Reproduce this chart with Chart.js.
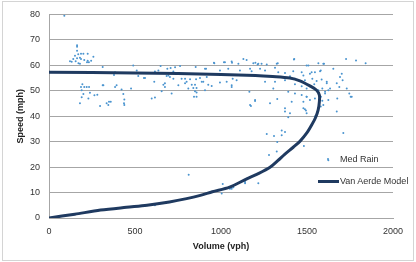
<!DOCTYPE html>
<html>
<head>
<meta charset="utf-8">
<script src="https://cdn.jsdelivr.net/npm/chart.js@4"></script>
<style>
  body { margin: 0; background: #fff; }
  #wrap { position: relative; width: 416px; height: 262px; font-family: "Liberation Sans", Arial, sans-serif; }
  #frame { position: absolute; left: 2px; top: 1px; width: 410px; height: 258px; border: 1px solid #d4d4d4; pointer-events: none; }
  .leg { position: absolute; font-size: 9px; color: #333; line-height: 12px; white-space: nowrap; }
  .dot { position: absolute; width: 2px; height: 2px; border-radius: 50%; background: #4a94cf; }
  .ln { position: absolute; height: 3px; background: #1f3a60; }
</style>
</head>
<body>
<div id="wrap">
  <canvas id="chart" width="416" height="262"></canvas>
  <div id="frame"></div>
  <div class="dot" style="left:327px;top:158px"></div>
  <div class="leg" style="left:340px;top:153px">Med Rain</div>
  <div class="ln" style="left:318px;top:180px;width:21px"></div>
  <div class="leg" style="left:340px;top:175px">Van Aerde Model</div>
</div>
<script>
// observed points (Volume vph, Speed mph)
const rainVolume = [
  89, 163, 163, 163, 151, 170, 186, 200, 225, 258, 141, 163, 180, 186, 205, 225, 245, 122, 155, 171, 180, 132, 221, 232,
  194, 186, 205, 219, 233, 316, 393, 384, 422, 477, 190, 238, 264, 281, 200, 190, 229, 432, 438, 180, 349, 359, 335, 345, 297, 438, 436, 312,
  312, 384, 378, 490, 510, 519, 558, 597, 612, 674, 655, 752,
  616, 649, 636, 688, 707, 723, 733, 762, 853, 913, 959, 1017, 1064, 1101, 1042, 994, 552, 684, 723, 791, 820, 855, 878, 888, 926, 946,
  994, 1033, 1068, 1062, 1091, 665, 674, 791, 849, 839, 810, 849, 713, 858, 843, 616, 694, 703, 771, 800, 830, 858, 858, 897, 907, 917, 907,
  1130, 1149, 1188, 1200, 1213, 1236, 1266, 1330, 1426, 1110, 1169, 1178, 1227, 1256, 1314, 1333, 1372, 1420, 1469, 1479, 1517, 1546, 1576,
  1401, 1430, 1488, 1531, 1556, 1585, 1256, 1314, 1372, 1430, 1469, 1498, 1517, 1542, 1566, 1589, 1304, 1391, 1430, 1469, 1498, 1517, 1546,
  1581, 1589, 1198, 1285, 1174, 1372, 1401, 1488, 1498, 1391,
  1727, 1785, 1841, 1653, 1702, 1692, 1707, 1673, 1731, 1688, 1760, 1676, 1615, 1634, 1605, 1580, 1673, 1595, 1566, 1498, 1165, 1198, 1169,
  1327, 1411, 1479, 1494, 1372, 961, 1023, 1062, 1217, 1324, 1424, 1062, 1599, 1508, 1527, 1580, 1615, 1624, 1605, 1624, 1595, 1498, 1479,
  1546, 1711, 1754, 1746,
  1266, 1308, 1353, 1372, 1353, 1327, 1482, 1324, 1279, 1217, 1140, 1072, 1062, 1010, 1004, 1624, 1140, 1149, 812, 946, 1052, 616
];
const rainSpeed = [
  79.5, 67.9, 67.3, 65.7, 63.8, 64.3, 64.5, 64.5, 64.5, 63.4, 62.5, 62.8, 63, 62.5, 62.1, 61.8, 61.8, 61.6, 61.6, 60.8, 60.6, 61.4, 61.2, 61.2,
  52.6, 51.5, 51.5, 51.5, 51.5, 52.2, 52.2, 51.5, 50.5, 50.9, 50.2, 49.2, 48.2, 48.4, 48.7, 47.4, 47, 48.7, 46.6, 45.1, 45.7, 45.7, 45.1, 44.4, 44, 44.4, 45.1, 52.2,
  59.3, 57.3, 56.2, 59.9, 58, 55.8, 55, 47, 53.5, 52.9, 49.8, 52.2,
  57.6, 59.7, 58, 58.6, 58.9, 57.6, 59.2, 59.7, 59.3, 58.6, 61, 61.2, 61, 60.6, 58.6, 58, 55, 55.8, 54.7, 54.7, 54.5, 54.5, 55, 53.5, 52.4, 51.9,
  53.2, 53.5, 54.7, 52.2, 54.1, 52.4, 51.5, 52.9, 52.4, 51.1, 50.9, 49.8, 48.9, 49.3, 47.6, 47.3, 56, 55.4, 54.7, 53.5, 52.4, 51.1, 47.6, 53.5, 50.2, 55.4, 58.6,
  62.5, 62.1, 60.8, 61, 60.3, 60.6, 60.3, 60.8, 62.5, 58, 58.6, 57.7, 58.6, 58, 59, 57.3, 57, 57.7, 57.3, 56, 56.7, 57.3, 57.7,
  55.7, 54.7, 54.1, 54.7, 53.8, 54.4, 53.5, 53.5, 54.1, 52.6, 51.8, 50.9, 51.8, 52.6, 50.2, 50.9, 50.9, 49.6, 48.9, 48.3, 47.6, 46.4, 47,
  47.6, 46.1, 46.4, 45.1, 44, 43.1, 41.2, 42.7, 41.2, 39.6,
  62.5, 61.9, 60.8, 58.6, 56.7, 55.4, 54.1, 52.9, 50.9, 51.5, 47.6, 47, 53.5, 50.9, 49.6, 43.8, 41.8, 60.6, 60.8, 59.9, 49.6, 46, 44.4,
  46.8, 45.7, 43.1, 42.2, 41.8, 60.8, 61.2, 61.5, 60.6, 60.6, 62.3, 51.5, 60.6, 59.9, 57.3, 58, 52.9, 50.2, 48.9, 46.4, 44.4, 47.6, 45.7,
  39.9, 33.4, 47.6, 48.9,
  33, 32.2, 34.4, 33.8, 32.5, 29.9, 28.3, 26.1, 24.8, 13.7, 14.1, 12.1, 11.5, 13.4, 9.6, 22.7, 13.7, 15.4, 17, 10.2, 11.5, 5.0
];

// Van Aerde model curve
const modelVolume = [0, 150, 300, 450, 570, 700, 800, 880, 950, 1050, 1150, 1220, 1285, 1330, 1372, 1420, 1460, 1500, 1527, 1550, 1565, 1572, 1572, 1556, 1517, 1459, 1400, 1300, 1200, 1000, 500, 0];
const modelSpeed = [0, 1.5, 3.1, 4.2, 5.0, 6.3, 7.6, 8.9, 10.3, 12.1, 15.4, 17.5, 19.9, 22.5, 25.1, 27.8, 30.2, 33.5, 36.5, 39.5, 42.5, 45.7, 48.3, 50.2, 51.9, 53.9, 55.0, 55.6, 56.0, 56.4, 57.0, 57.3];

const xTicks = [0, 500, 1000, 1500, 2000];
const yTicks = [0, 10, 20, 30, 40, 50, 60, 70, 80];

const rainPoints = rainVolume.map((v, i) => ({ x: v, y: rainSpeed[i] }));
const modelPoints = modelVolume.map((v, i) => ({ x: v, y: modelSpeed[i] }));

const tickFont = { family: '"Liberation Sans", Arial, sans-serif', size: 9 };
const titleFont = { family: '"Liberation Sans", Arial, sans-serif', size: 9, weight: 'bold' };

new Chart(document.getElementById('chart'), {
    type: 'scatter',
    data: {
        datasets: [{
            label: 'Van Aerde Model',
            data: modelPoints,
            showLine: true,
            borderColor: '#1f3a60',
            borderWidth: 3,
            tension: 0.3,
            pointRadius: 0,
            order: 0
        }, {
            label: 'Med Rain',
            data: rainPoints,
            backgroundColor: '#4a94cf',
            borderWidth: 0,
            pointRadius: 1,
            order: 1
        }]
    },
    options: {
        responsive: false,
        animation: false,
        layout: { padding: { top: 11, right: 23, left: 0, bottom: 0 } },
        plugins: {
            legend: { display: false },
            tooltip: { enabled: false }
        },
        scales: {
            x: {
                type: 'linear',
                min: 0,
                max: 2000,
                afterBuildTicks: function(scale) { scale.ticks = xTicks.map(v => ({ value: v })); },
                afterFit: function(scale) { scale.height = 44; },
                grid: { display: false, drawTicks: false },
                border: { color: '#a6a6a6' },
                ticks: { font: tickFont, color: '#333', padding: 8, maxRotation: 0, callback: v => String(v) },
                title: { display: true, text: 'Volume (vph)', font: titleFont, color: '#222', padding: { top: 0, bottom: 10 } }
            },
            y: {
                min: 0,
                max: 80,
                afterBuildTicks: function(scale) { scale.ticks = yTicks.map(v => ({ value: v })); },
                afterFit: function(scale) { scale.width = 49; },
                grid: { color: '#a6a6a6', drawTicks: false },
                border: { color: '#a6a6a6' },
                ticks: { font: tickFont, color: '#333', padding: 9, callback: v => String(v) },
                title: { display: true, text: 'Speed (mph)', font: titleFont, color: '#222', padding: { top: 15, bottom: 0 } }
            }
        }
    }
});
</script>
</body>
</html>
